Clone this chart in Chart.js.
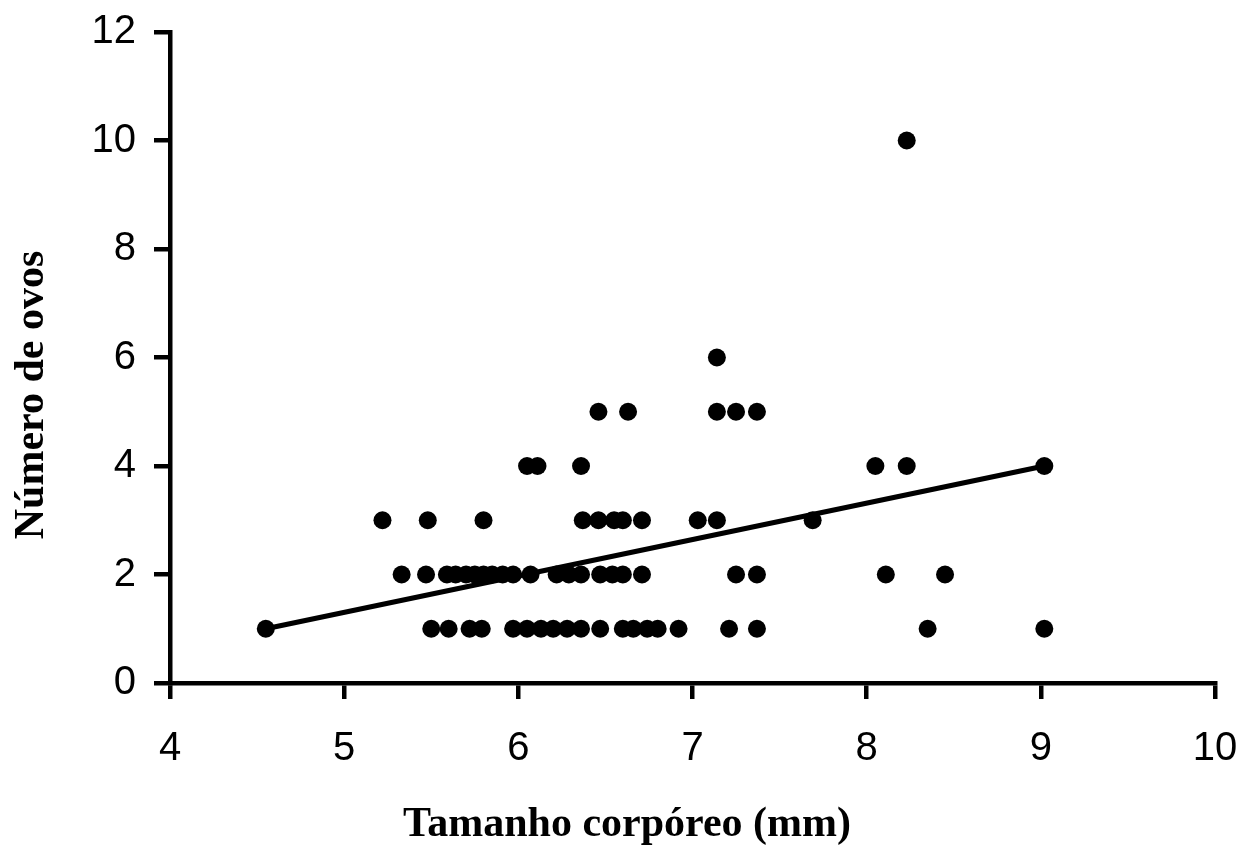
<!DOCTYPE html>
<html>
<head>
<meta charset="utf-8">
<script src="https://cdn.jsdelivr.net/npm/chart.js@4.4.1/dist/chart.umd.min.js"></script>
<style>
html, body { margin: 0; padding: 0; background: #fff; }
</style>
</head>
<body>
<canvas id="c" width="1243" height="857"></canvas>
<script>
// body size (mm) and egg count, one pair per female
var size = [
    4.55, 5.50, 5.60, 5.72, 5.79, 5.97, 6.05, 6.13, 6.20, 6.28, 6.36, 6.47, 6.60, 6.66, 6.74, 6.80, 6.92, 7.21, 7.37, 8.35, 9.02,
    5.33, 5.47, 5.59, 5.64, 5.70, 5.75, 5.80, 5.85, 5.91, 5.97, 6.07, 6.22, 6.29, 6.36, 6.47, 6.54, 6.60, 6.71, 7.25, 7.37, 8.11, 8.45,
    5.22, 5.48, 5.80, 6.37, 6.46, 6.55, 6.60, 6.71, 7.03, 7.14, 7.69,
    6.05, 6.11, 6.36, 8.05, 8.23, 9.02,
    6.46, 6.63, 7.14, 7.25, 7.37,
    7.14,
    8.23
];
var eggs = [
    1, 1, 1, 1, 1, 1, 1, 1, 1, 1, 1, 1, 1, 1, 1, 1, 1, 1, 1, 1, 1,
    2, 2, 2, 2, 2, 2, 2, 2, 2, 2, 2, 2, 2, 2, 2, 2, 2, 2, 2, 2, 2, 2,
    3, 3, 3, 3, 3, 3, 3, 3, 3, 3, 3,
    4, 4, 4, 4, 4, 4,
    5, 5, 5, 5, 5,
    6,
    10
];
// linear trend line end points
var trendX = [4.55, 9.02];
var trendY = [1.0, 4.0];

var xMin = 4, xMax = 10, xStep = 1;
var yMin = 0, yMax = 12, yStep = 2;

var xTitle = "Tamanho corpóreo (mm)";
var yTitle = "Número de ovos";

var pts = size.map(function(x, i) { return { x: x, y: eggs[i] }; });
var trend = trendX.map(function(x, i) { return { x: x, y: trendY[i] }; });

var axisTitles = {
    id: "axisTitles",
    afterDraw: function(chart) {
        var ctx = chart.ctx;
        ctx.save();
        ctx.fillStyle = "#000";
        ctx.font = "bold 42px 'Liberation Serif', 'Times New Roman', serif";
        ctx.textAlign = "center";
        ctx.textBaseline = "middle";
        ctx.fillText(xTitle, 627, 825);
        ctx.translate(32, 395);
        ctx.rotate(-Math.PI / 2);
        ctx.fillText(yTitle, 0, 0);
        ctx.restore();
    }
};

// no extra room for overhanging labels, the layout padding takes care of it
function noPad(s) {
    s.paddingLeft = 0; s.paddingRight = 0; s.paddingTop = 0; s.paddingBottom = 0;
}

var tickFont = { family: "'Liberation Sans', Arial, sans-serif", size: 40 };
var gridOpts = { drawOnChartArea: false, drawTicks: true, tickLength: 16, lineWidth: 4.5, color: "#000" };
var borderOpts = { display: true, color: "#000", width: 4.5 };

new Chart(document.getElementById("c"), {
    type: "scatter",
    data: {
        datasets: [
            {
                data: pts,
                backgroundColor: "#000",
                borderColor: "#000",
                pointRadius: 9,
                pointHoverRadius: 9,
                borderWidth: 0
            },
            {
                data: trend,
                showLine: true,
                borderColor: "#000",
                borderWidth: 5,
                pointRadius: 0,
                pointHoverRadius: 0
            }
        ]
    },
    options: {
        responsive: false,
        animation: false,
        layout: { padding: { top: 32, right: 28, bottom: 0, left: 0 } },
        plugins: { legend: { display: false }, tooltip: { enabled: false } },
        scales: {
            x: {
                type: "linear",
                min: xMin, max: xMax,
                ticks: { stepSize: xStep, color: "#000", font: tickFont, padding: 26, maxRotation: 0 },
                grid: gridOpts,
                border: borderOpts,
                afterFit: function(s) { s.height = 174; noPad(s); }
            },
            y: {
                type: "linear",
                min: yMin, max: yMax,
                ticks: { stepSize: yStep, color: "#000", font: tickFont, padding: 18 },
                grid: gridOpts,
                border: borderOpts,
                afterFit: function(s) { s.width = 170; noPad(s); }
            }
        }
    },
    plugins: [axisTitles]
});
</script>
</body>
</html>
